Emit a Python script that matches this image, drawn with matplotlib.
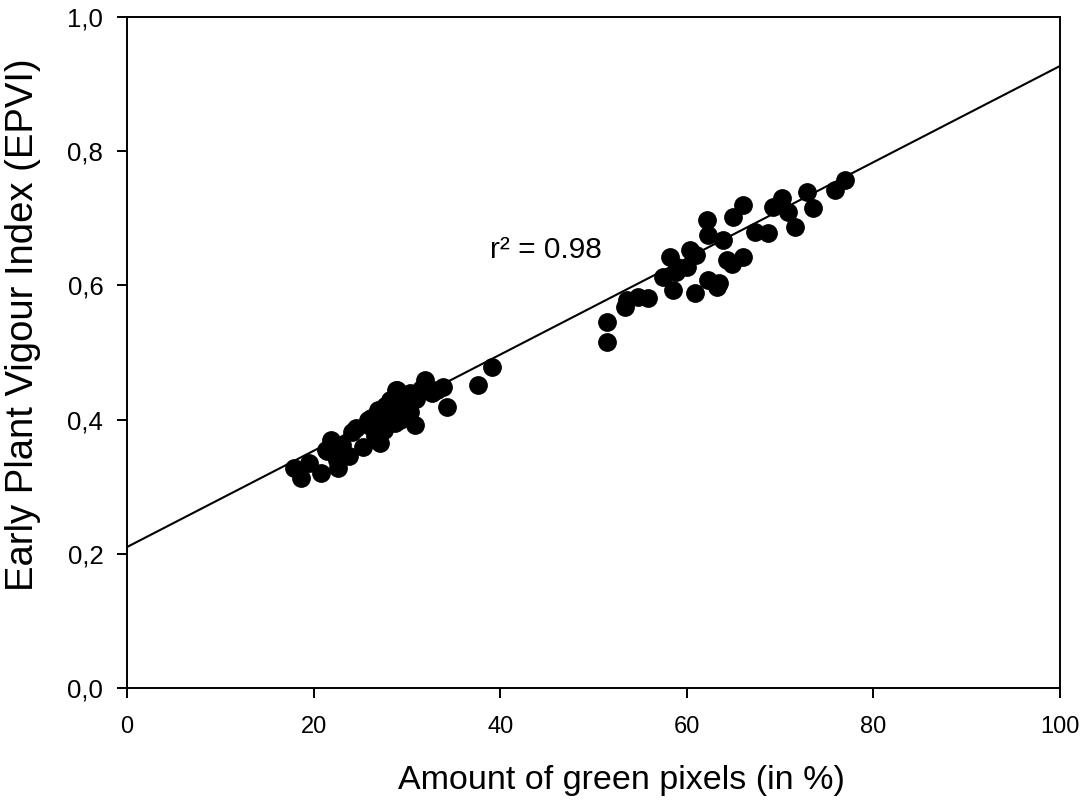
import matplotlib
matplotlib.use("Agg")
import matplotlib.pyplot as plt
from matplotlib.ticker import FuncFormatter

plt.rcParams['font.family'] = ['Liberation Sans', 'DejaVu Sans']

# measured points (green pixels %, EPVI)
green_low = [17.9, 18.7, 19.5, 20.8, 21.4, 21.9, 21.3, 22.6, 22.9, 23.1, 24.1, 24.6,
             25.3, 25.8, 26.2, 26.6, 26.9, 27.3, 27.7, 28.0, 28.2, 28.5, 28.8, 29.0,
             29.3, 29.6, 29.9, 30.3, 30.9, 31.5, 31.9, 32.7, 33.2, 33.9, 34.3, 37.6,
             39.1, 27.5, 28.7, 29.5, 30.0, 31.0, 26.0, 27.0, 23.8, 22.5, 27.1, 28.9,
             30.3]
epvi_low = [0.328, 0.313, 0.335, 0.320, 0.353, 0.370, 0.355, 0.328, 0.350, 0.362, 0.381, 0.387,
            0.359, 0.399, 0.402, 0.376, 0.414, 0.392, 0.420, 0.398, 0.429, 0.410, 0.444, 0.418,
            0.400, 0.425, 0.437, 0.412, 0.392, 0.445, 0.459, 0.440, 0.444, 0.449, 0.419, 0.452,
            0.478, 0.385, 0.395, 0.405, 0.420, 0.430, 0.390, 0.405, 0.345, 0.340, 0.365, 0.444,
            0.440]

green_high = [51.5, 51.5, 53.6, 54.8, 55.8, 53.4, 57.4, 58.2, 58.5, 60.3, 60.9, 60.0,
              62.2, 62.3, 62.3, 63.2, 63.9, 64.3, 65.0, 66.0, 66.0, 67.3, 68.7, 69.2,
              70.2, 70.8, 71.6, 72.9, 73.5, 75.9, 77.0, 59.0, 61.0, 64.8, 63.5, 58.8]
epvi_high = [0.545, 0.516, 0.578, 0.583, 0.581, 0.568, 0.612, 0.642, 0.593, 0.653, 0.589, 0.627,
             0.697, 0.675, 0.608, 0.598, 0.668, 0.638, 0.702, 0.720, 0.642, 0.680, 0.678, 0.717,
             0.730, 0.709, 0.687, 0.739, 0.715, 0.742, 0.757, 0.628, 0.645, 0.632, 0.603, 0.620]

# regression line end points
fit_x = [0, 100]
fit_y = [0.21, 0.927]

r2_label = "r² = 0.98"

fig = plt.figure(figsize=(10.85, 8.09), dpi=100)
ax = fig.add_axes([0.117, 0.1496, 0.86, 0.8294])

ax.plot(fit_x, fit_y, color='black', linewidth=1.5, zorder=2)
ax.plot(green_low + green_high, epvi_low + epvi_high, 'o', color='black',
        markersize=12.5, zorder=3)

ax.text(38.9, 0.653, r2_label, fontsize=21.5, va='center', ha='left')

ax.set_xlim(0, 100)
ax.set_ylim(0, 1.0)
ax.set_xticks([0, 20, 40, 60, 80, 100])
ax.set_yticks([0.0, 0.2, 0.4, 0.6, 0.8, 1.0])
ax.yaxis.set_major_formatter(FuncFormatter(lambda v, _: f"{v:.1f}".replace('.', ',')))

ax.tick_params(direction='out', length=7, width=1.4)
ax.tick_params(axis='x', labelsize=17, pad=13)
ax.tick_params(axis='y', labelsize=18.5, pad=10)
for sp in ax.spines.values():
    sp.set_linewidth(1.4)

ax.set_xlabel('Amount of green pixels (in %)', fontsize=24.5)
ax.set_ylabel('Early Plant Vigour Index (EPVI)', fontsize=27.5)
ax.xaxis.set_label_coords(0.53, -0.115)
ax.yaxis.set_label_coords(-0.092, 0.542)

fig.savefig('out.png', dpi=100)
